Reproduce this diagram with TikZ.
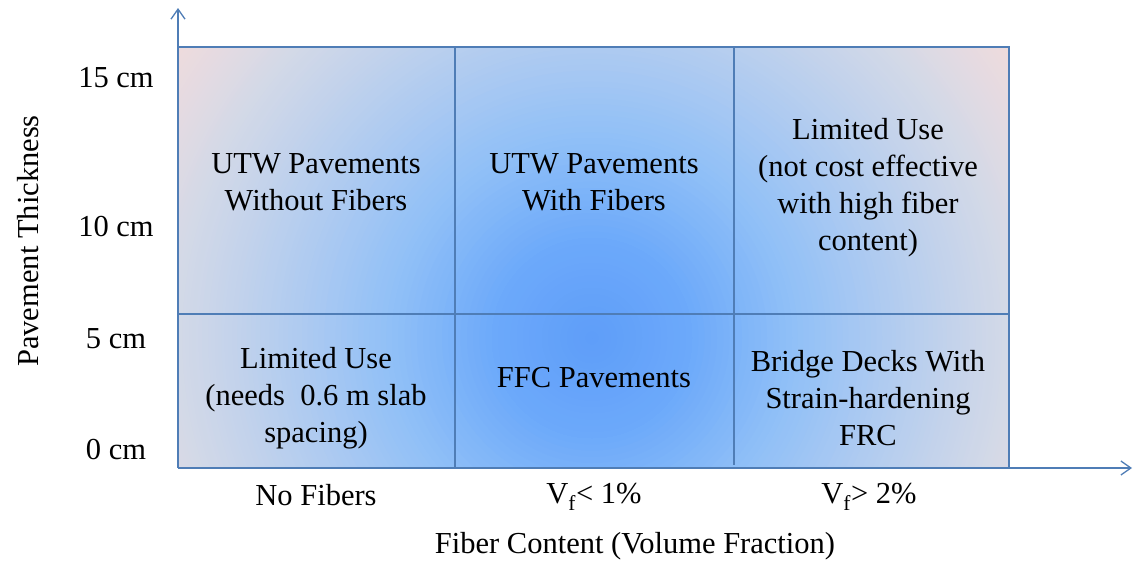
\documentclass[tikz,border=0pt]{standalone}
\usepackage{fontspec}
\setmainfont{Liberation Serif}
\usetikzlibrary{arrows.meta}
\definecolor{axisblue}{HTML}{4F7DB6}
\definecolor{gA}{HTML}{5E9DF9}
\definecolor{gB}{HTML}{6CA9FA}
\definecolor{gC}{HTML}{8FBFF7}
\definecolor{gD}{HTML}{ADCAF1}
\definecolor{gE}{HTML}{C4D3EB}
\definecolor{gF}{HTML}{D3D9E7}
\definecolor{gG}{HTML}{E4DAE2}
\definecolor{gH}{HTML}{F4DCD9}
\newcommand{\ringseg}[4]{%
  \foreach \t in {0,1,...,16}{%
    \pgfmathsetmacro\rr{#2-(#2-#1)*\t/16}%
    \pgfmathtruncatemacro\pp{100*\t/16}%
    \fill[#3!\pp!#4] (gc) circle[radius=\rr];
  }}
\tikzset{
  txt/.style={font=\fontsize{30.5}{37}\selectfont, align=center, inner sep=0pt, text=black},
  gridline/.style={draw=axisblue, line width=1.5pt},
  axisarrow/.style={draw=axisblue, line width=1.3pt, -{Straight Barb[length=10pt,width=14pt,line width=1.3pt]}}
}
\begin{document}
\begin{tikzpicture}[x=1pt,y=-1pt]
\useasboundingbox (0,0) rectangle (1133,565);
% coordinates
\coordinate (gc) at (592,338);
\coordinate (O) at (178,468);
\coordinate (TL) at (178,47);
\coordinate (TR) at (1009,47);
\coordinate (BR) at (1009,468);
\coordinate (xend) at (1132,468);
\coordinate (yend) at (178,8);
\coordinate (v1t) at (455,47);
\coordinate (v1b) at (455,468);
\coordinate (v2t) at (734,47);
\coordinate (v2b) at (734,465);
\coordinate (hL) at (178,314);
\coordinate (hR) at (1009,314);
% shaded field (radial gradient)
\begin{scope}
  \clip (TL) rectangle (BR);
  \ringseg{468}{530}{gG}{gH}
  \ringseg{416}{468}{gF}{gG}
  \ringseg{364}{416}{gE}{gF}
  \ringseg{290}{364}{gD}{gE}
  \ringseg{200}{290}{gC}{gD}
  \ringseg{100}{200}{gB}{gC}
  \ringseg{0}{100}{gA}{gB}
\end{scope}
% grid
\draw[gridline] (TL) -- (TR) -- (BR);
\draw[gridline] (v1t) -- (v1b);
\draw[gridline] (v2t) -- (v2b);
\draw[gridline] (hL) -- (hR);
% axes
\draw[axisarrow] (O) -- (xend);
\draw[axisarrow] (O) -- (yend);
% cell texts
\node[txt] (c11) at (316,182) {UTW Pavements\\Without Fibers};
\node[txt] (c12) at (594,182) {UTW Pavements\\With Fibers};
\node[txt] (c13) at (868,188) {Limited Use\\(not cost effective\\with high fiber\\content)};
\node[txt] (c21) at (316,398) {Limited Use\\(needs~ 0.6 m slab\\spacing)};
\node[txt] (c22) at (594,378) {FFC Pavements};
\node[txt] (c23) at (868,398) {Bridge Decks With\\Strain-hardening\\FRC};
% y tick labels
\node[txt] (y15) at (116,78) {15 cm};
\node[txt] (y10) at (116,227) {10 cm};
\node[txt] (y5) at (116,339) {5 cm};
\node[txt] (y0) at (116,450) {0 cm};
% x tick labels
\node[txt] (xn) at (316,495) {No Fibers};
\node[txt] (x1) at (594,497) {V\textsubscript{f}{<} 1\%};
\node[txt] (x2) at (869,497) {V\textsubscript{f}{>} 2\%};
% axis titles
\node[txt, rotate=90] (ytitle) at (28,241) {Pavement Thickness};
\node[txt] (xtitle) at (635,546) {Fiber Content (Volume Fraction)};
\end{tikzpicture}
\end{document}
